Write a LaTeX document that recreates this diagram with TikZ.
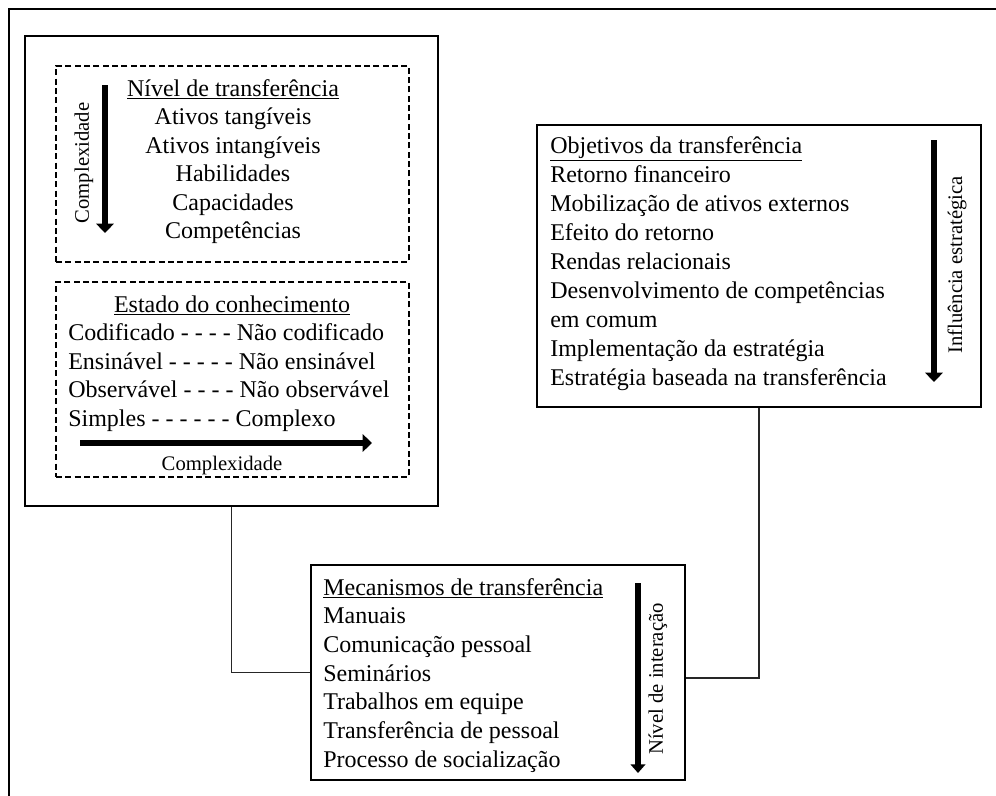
\documentclass[tikz,border=0pt]{standalone}
\usepackage{fontspec}
\setmainfont{Liberation Serif}
\usetikzlibrary{arrows.meta,fit}
\begin{document}
\begin{tikzpicture}[x=0.75pt,y=-0.75pt,
  txt/.style={font=\fontsize{18}{21}\selectfont, inner sep=0, anchor=base west},
  ctxt/.style={txt, anchor=base},
  small/.style={font=\fontsize{15.5}{18}\selectfont, inner sep=0},
  box/.style={draw=black, line width=1.2pt, inner sep=0},
  dbox/.style={draw=black, line width=1pt, dash pattern=on 4.5pt off 2.5pt, inner sep=0},
  bigarrow/.style={line width=5pt, -{Triangle[length=7pt,width=13pt]}},
  midarrow/.style={line width=4.5pt, -{Triangle[length=6.5pt,width=11pt]}},
  link/.style={draw=black!85, line width=1pt}]
\useasboundingbox (0,0) rectangle (996,796);
% outer frame (cropped)
\draw[line width=2pt] (9,800) -- (9,9) -- (1000,9);
% boxes
\node[box, fit={(25,36) (438,506)}] (L) {};
\node[dbox, fit={(56,66) (409,262)}] (D1) {};
\node[dbox, fit={(56,282) (409,477)}] (D2) {};
\node[box, fit={(537,125) (981,407)}] (R) {};
\node[box, fit={(311,565) (685,780)}] (M) {};
% connectors
\draw[link] (L.south) |- (M.west);
\draw[link] (R.south) |- ([yshift=-4pt]M.east);
% Nivel de transferencia
\node[ctxt] (n0) at (233,96) {\underline{Nível de transferência}};
\foreach \t [count=\i] in {Ativos tangíveis,Ativos intangíveis,Habilidades,Capacidades,Competências}
  \node[ctxt] (n\i) at (233,{96+28.5*\i}) {\t};
\draw[bigarrow] (105,85) -- (105,233);
\node[small, rotate=90] (cx1) at (84,163) {Complexidade};
% Estado do conhecimento
\node[ctxt] (e0) at (232,312) {\underline{Estado do conhecimento}};
\foreach \t [count=\i] in {Codificado - - - - Não codificado,Ensinável - - - - - Não ensinável,Observável - - - - Não observável,Simples - - - - - - Complexo}
  \node[txt] (e\i) at (68,{312+28.5*\i}) {\t};
\draw[bigarrow] (80,443) -- (372,443);
\node[small, anchor=base] (cx2) at (222,470) {Complexidade};
% Objetivos
\node[txt] (o0) at (550,153) {\underline{Objetivos da transferência}};
\foreach \t [count=\i] in {Retorno financeiro,Mobilização de ativos externos,Efeito do retorno,Rendas relacionais,Desenvolvimento de competências,em comum,Implementação da estratégia,Estratégia baseada na transferência}
  \node[txt] (o\i) at (550,{153+29*\i}) {\t};
\draw[bigarrow] (934,140) -- (934,382);
\node[small, rotate=90] (ie) at (957,265) {Influência estratégica};
% Mecanismos
\node[txt] (m0) at (323,595) {\underline{Mecanismos de transferência}};
\foreach \t [count=\i] in {Manuais,Comunicação pessoal,Seminários,Trabalhos em equipe,Transferência de pessoal,Processo de socialização}
  \node[txt] (m\i) at (323,{595+28.67*\i}) {\t};
\draw[midarrow] (638,583) -- (638,773);
\node[small, rotate=90] (ni) at (658,679) {Nível de interação};
\end{tikzpicture}
\end{document}
